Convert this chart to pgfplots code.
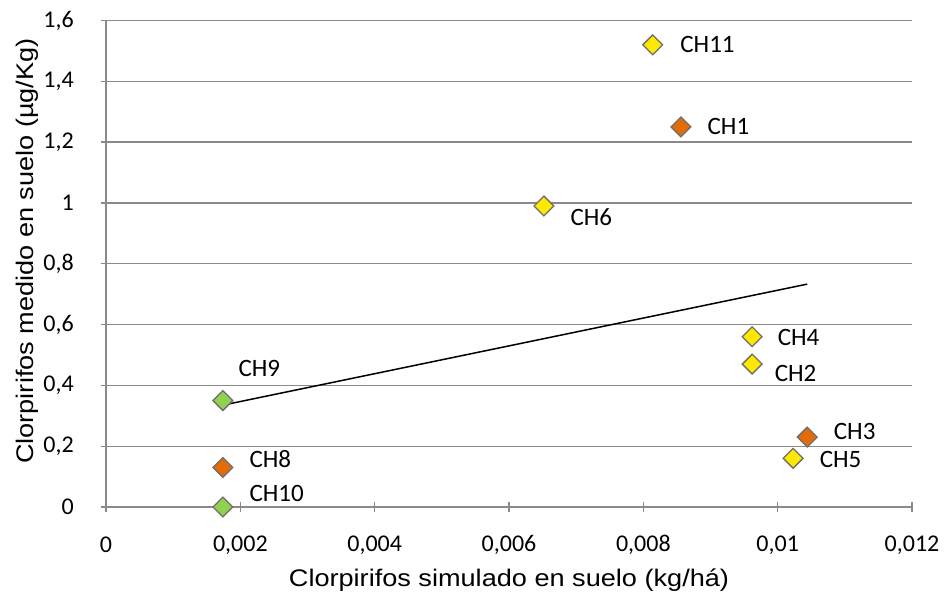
\documentclass[border=0pt]{standalone}
\usepackage{fontspec}
\setmainfont{Carlito}
\newfontfamily\arialx[FakeStretch=1.13]{Liberation Sans}
\usepackage{pgfplots}
\usepackage{pgfplotstable}
\pgfplotsset{compat=1.18}
\definecolor{cyel}{HTML}{FFE800}
\definecolor{corg}{HTML}{E36C09}
\definecolor{cgrn}{HTML}{92D050}
\definecolor{cedge}{HTML}{6E6E6E}
\definecolor{cgrid}{HTML}{898989}

\pgfplotstableread{
x y lab dx dy
0.00814 1.52 CH11 27 0
0.00652 0.99 CH6 26 -11
0.00962 0.56 CH4 25 -1
0.00962 0.47 CH2 22 -9
0.01023 0.16 CH5 26 -1
}\yel
\pgfplotstableread{
x y lab dx dy
0.00856 1.25 CH1 26 0
0.01044 0.23 CH3 26 6
0.00174 0.13 CH8 26 8
}\org
\pgfplotstableread{
x y lab dx dy
0.00174 0.35 CH9 15 32
0.00174 0.00 CH10 26 14
}\grn
\pgfplotstableread{
x y
0.00174 0.335
0.01044 0.733
}\trend

\pgfplotsset{
  lbl/.style={only marks, mark=square*, mark size=7bp,
    mark options={rotate=45, fill=#1, draw=cedge, line width=1.3bp},
    point meta=explicit symbolic,
    visualization depends on={\thisrow{dx}\as\dx},
    visualization depends on={\thisrow{dy}\as\dy},
    nodes near coords,
    nodes near coords style={anchor=west, inner sep=0pt, text=black,
      font=\fontsize{25bp}{29bp}\selectfont, xshift=\dx bp, yshift=\dy bp}},
}

\begin{document}
\begin{tikzpicture}
\begin{axis}[
  scale only axis, width=806bp, height=486.5bp,
  xmin=0, xmax=0.012, ymin=0, ymax=1.6,
  axis x line*=bottom, axis y line*=left,
  axis line style={draw=cgrid, line width=1.3bp, -},
  xtick={0,0.002,0.004,0.006,0.008,0.01,0.012},
  ytick={0,0.2,0.4,0.6,0.8,1,1.2,1.4,1.6},
  ymajorgrids, grid style={cgrid, line width=1.3bp},
  tick align=center, major tick length=10bp,
  tick style={cgrid, line width=1.3bp},
  scaled ticks=false,
  ticklabel style={font=\fontsize{24bp}{28bp}\selectfont, inner sep=0pt,
    /pgf/number format/use comma, /pgf/number format/fixed,
    /pgf/number format/precision=3, /pgf/number format/assume math mode=true},
  yticklabel style={xshift=-27bp},
  xticklabel style={anchor=center, yshift=-33bp},
  xlabel={Clorpirifos simulado en suelo (kg/há)},
  ylabel={Clorpirifos medido en suelo (µg/Kg)},
  label style={font=\arialx\fontsize{24bp}{28bp}\selectfont, inner sep=0pt},
  xlabel style={at={(rel axis cs:0.5,0)}, anchor=center, yshift=-73.5bp},
  ylabel style={at={(rel axis cs:0,0.5)}, anchor=center, yshift=79bp, xshift=12.75bp},
  clip=false,
]
\addplot[lbl=cyel] table[x=x,y=y,meta=lab]{\yel};
\addplot[lbl=corg] table[x=x,y=y,meta=lab]{\org};
\addplot[lbl=cgrn] table[x=x,y=y,meta=lab]{\grn};
\addplot[black, line width=1.5bp, no marks] table[x=x,y=y]{\trend};
\coordinate (bl) at (rel axis cs:0,0);
\coordinate (tr) at (rel axis cs:1,1);
\end{axis}
\pgfresetboundingbox
\path[use as bounding box] ([xshift=-106bp,yshift=-88bp]bl) rectangle ([xshift=32bp,yshift=20.5bp]tr);
\end{tikzpicture}
\end{document}
